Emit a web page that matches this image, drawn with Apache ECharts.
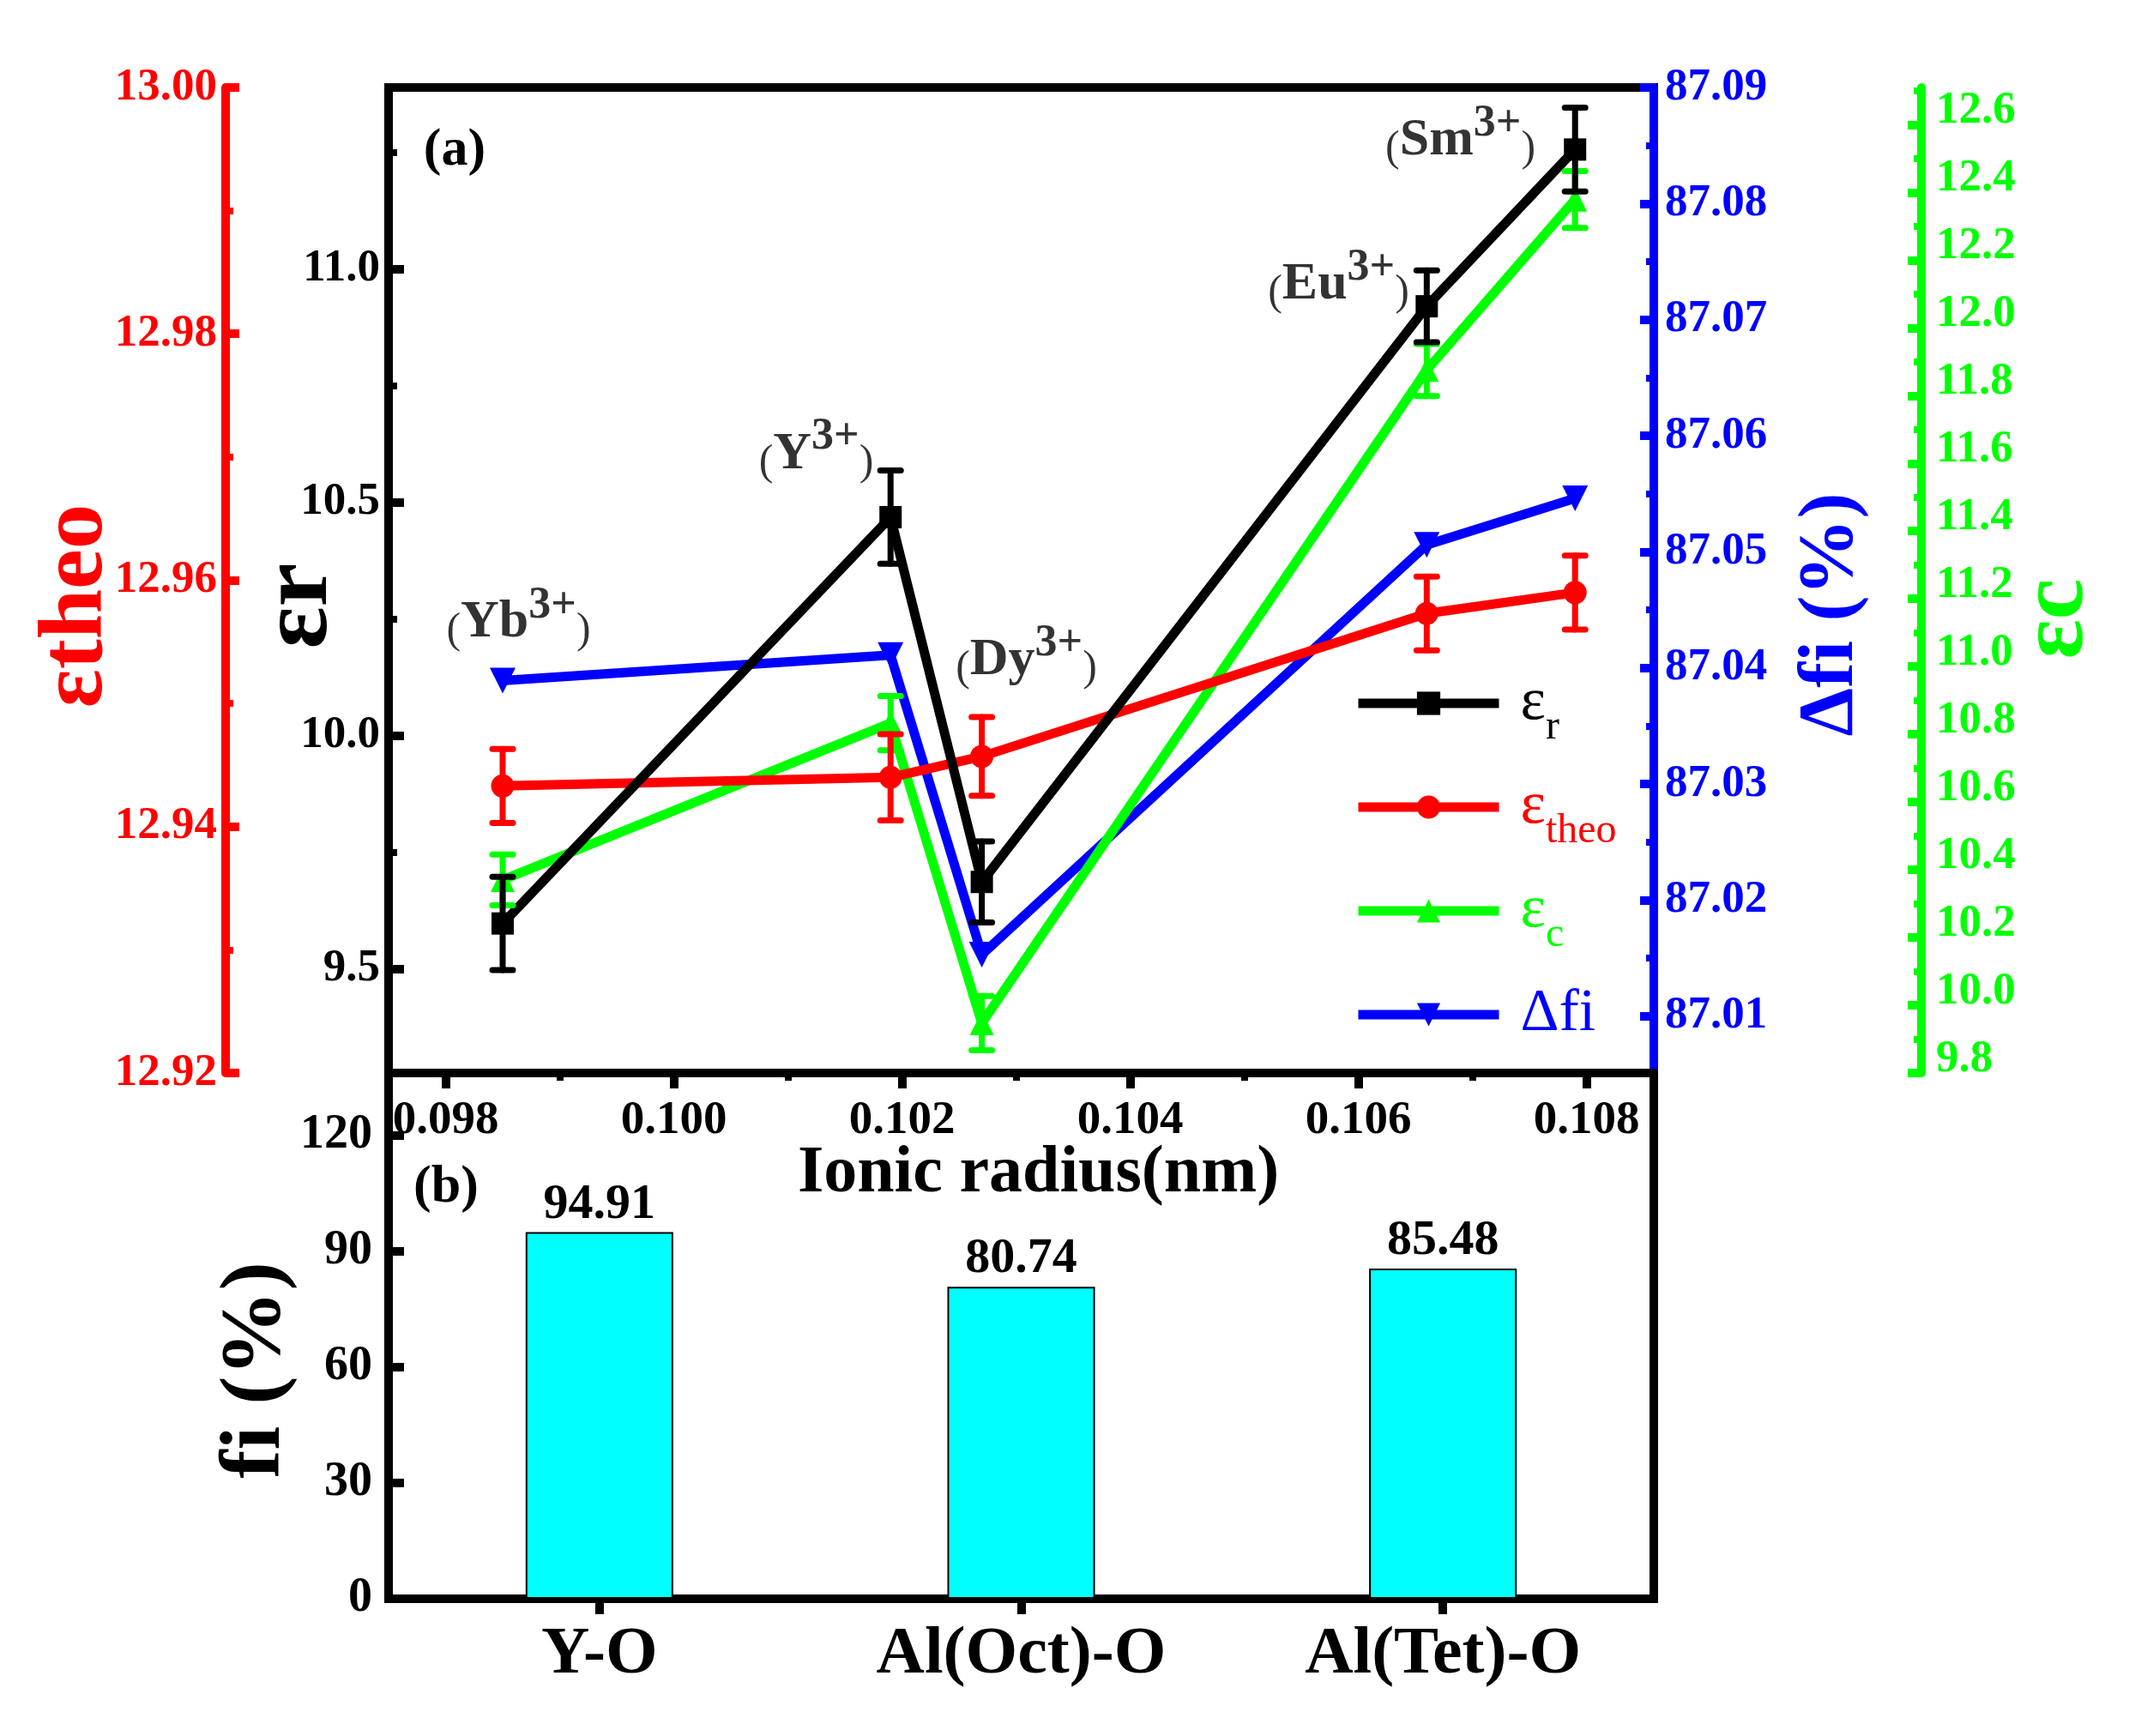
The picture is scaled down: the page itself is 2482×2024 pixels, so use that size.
<!DOCTYPE html>
<html>
<head>
<meta charset="utf-8">
<script src="https://cdn.jsdelivr.net/npm/echarts@6/dist/echarts.min.js"></script>
<style>html,body{margin:0;padding:0;background:#fff}#c{width:2482px;height:2024px}</style>
</head>
<body>
<div id="c"></div>
<script>
// ---------- data ----------
const ionicRadius = [0.0985, 0.1019, 0.1027, 0.1066, 0.1079];
const ionNames = ['Yb', 'Y', 'Dy', 'Eu', 'Sm'];
const epsR = [9.597, 10.468, 9.686, 10.92, 11.256];
const epsRErr = [0.10, 0.10, 0.087, 0.077, 0.09];
const epsTheo = [12.9433, 12.9440, 12.9457, 12.9573, 12.959];
const epsTheoErr = [0.003, 0.0035, 0.0032, 0.003, 0.003];
const epsC = [10.37, 10.833, 9.947, 11.876, 12.379];
const epsCErr = [0.075, 0.08, 0.08, 0.077, 0.084];
const deltaFi = [87.0389, 87.0411, 87.0153, 87.0506, 87.0546];
// annotation anchors in (ionic radius, εr) units
const annotX = [0.098639, 0.101248, 0.103090, 0.105827, 0.106895];
const annotY = [10.2415, 10.602, 10.1607, 10.966, 11.2746];

const bonds = ['Y-O', 'Al(Oct)-O', 'Al(Tet)-O'];
const fiValues = [94.91, 80.74, 85.48];

// ---------- ticks ----------
const xTicks = [0.098, 0.100, 0.102, 0.104, 0.106, 0.108];
const xMinor = [0.099, 0.101, 0.103, 0.105, 0.107];
const epsRTicks = [9.5, 10.0, 10.5, 11.0];
const epsRMinor = [9.75, 10.25, 10.75, 11.25];
const epsTheoTicks = [12.92, 12.94, 12.96, 12.98, 13.00];
const epsTheoMinor = [12.93, 12.95, 12.97, 12.99];
const deltaFiTicks = [87.01, 87.02, 87.03, 87.04, 87.05, 87.06, 87.07, 87.08, 87.09];
const deltaFiMinor = [87.015, 87.025, 87.035, 87.045, 87.055, 87.065, 87.075, 87.085];
const epsCTicks = [9.8, 10.0, 10.2, 10.4, 10.6, 10.8, 11.0, 11.2, 11.4, 11.6, 11.8, 12.0, 12.2, 12.4, 12.6];
const epsCMinor = [9.9, 10.1, 10.3, 10.5, 10.7, 10.9, 11.1, 11.3, 11.5, 11.7, 11.9, 12.1, 12.3, 12.5, 12.7];
const fiTicks = [0, 30, 60, 90, 120];

// ---------- style ----------
const FF = 'Liberation Serif';
const BLACK = '#000000', RED = '#FF0000', BLUE = '#0000FF', GREEN = '#00FF00', CYAN = '#00FFFF';

const chart = echarts.init(document.getElementById('c'));

function majorAxis(o) {
  const lbl = { show: true, customValues: o.ticks, formatter: v => v.toFixed(o.dec), color: o.color,
      fontFamily: FF, fontWeight: 'bold', fontSize: o.fs || 53, margin: o.margin || 10 };
  if (o.lift) { lbl.verticalAlign = 'bottom'; lbl.lineHeight = o.lift; }
  return {
    type: 'value', gridIndex: o.grid, position: o.pos, offset: o.offset || 0,
    min: o.min, max: o.max,
    axisLine: { show: true, onZero: false, lineStyle: { color: o.color, width: 10 } },
    axisTick: { show: true, inside: o.inside, length: o.tickLen || 17, lineStyle: { color: o.color, width: 10 }, customValues: o.ticks },
    axisLabel: lbl,
    splitLine: { show: false },
    name: o.name, nameLocation: 'middle', nameGap: o.nameGap, nameRotate: o.nameRotate, nameMoveOverlap: false,
    nameTextStyle: { color: o.color, fontFamily: FF, fontWeight: 'bold', fontSize: o.nfs || 100, padding: o.npad || 0 }
  };
}
function minorAxis(o) {
  return {
    type: 'value', gridIndex: o.grid, position: o.pos, offset: o.offset || 0,
    min: o.min, max: o.max,
    axisLine: { show: false },
    axisTick: { show: true, inside: o.inside, length: o.len || 9, lineStyle: { color: o.color, width: 8 }, customValues: o.ticks },
    axisLabel: { show: false },
    splitLine: { show: false }
  };
}

const X0 = { min: 0.0975, max: 0.10859 };
const RR = { min: 9.2765, max: 11.389 };
const RT = { min: 12.92, max: 13.00 };
const RF = { min: 87.0051, max: 87.09 };
const RC = { min: 9.8, max: 12.71 };

function errorSeries(name, yIdx, vals, errs, color) {
  return {
    type: 'custom', name: name + '_err', xAxisIndex: 0, yAxisIndex: yIdx, z: 6, silent: true,
    encode: { x: 0, y: [1, 2] },
    data: ionicRadius.map((x, i) => [x, vals[i] - errs[i], vals[i] + errs[i]]),
    renderItem: function (params, api) {
      const x = api.value(0);
      const lo = api.coord([x, api.value(1)]);
      const hi = api.coord([x, api.value(2)]);
      const cw = 12;
      const st = { stroke: color, lineWidth: 7, lineCap: 'round' };
      return { type: 'group', children: [
        { type: 'line', shape: { x1: lo[0], y1: lo[1], x2: hi[0], y2: hi[1] }, style: st },
        { type: 'line', shape: { x1: lo[0] - cw, y1: lo[1], x2: lo[0] + cw, y2: lo[1] }, style: st },
        { type: 'line', shape: { x1: hi[0] - cw, y1: hi[1], x2: hi[0] + cw, y2: hi[1] }, style: st }
      ] };
    }
  };
}

const legendFmt = {
  'εr': '{g| }{mK|ε}{sK|r}',
  'εtheo': '{g| }{mR|ε}{sR|theo}',
  'εc': '{g| }{mG|ε}{sG|c}',
  'Δfi': '{g| }{mB|Δfi}{sB| }'
};
function mTok(c) { return { fontFamily: FF, fontSize: 70, color: c }; }
function sTok(c) { return { fontFamily: FF, fontSize: 48, color: c, padding: [56, 0, 0, 0] }; }

const annRich = {
  p: { fontFamily: FF, fontSize: 50, color: BLACK, padding: [20, 0, 0, 0] },
  m: { fontFamily: FF, fontSize: 62, fontWeight: 'bold', color: BLACK },
  s: { fontFamily: FF, fontSize: 52, fontWeight: 'bold', color: BLACK, padding: [0, 0, 40, 0] }
};

const option = {
  animation: false,
  backgroundColor: '#ffffff',
  textStyle: { fontFamily: FF },
  grid: [
    { left: 453, top: 102, width: 1475, height: 1149, show: true, borderColor: BLACK, borderWidth: 10, backgroundColor: 'transparent' },
    { left: 453, top: 1251, width: 1475, height: 613, show: true, borderColor: BLACK, borderWidth: 10, backgroundColor: 'transparent' }
  ],
  xAxis: [
    {
      type: 'value', gridIndex: 0, position: 'bottom', min: X0.min, max: X0.max,
      axisLine: { show: true, onZero: false, lineStyle: { color: BLACK, width: 10 } },
      axisTick: { show: true, inside: false, length: 18, lineStyle: { color: BLACK, width: 10 }, customValues: xTicks },
      axisLabel: { show: true, customValues: xTicks, formatter: v => v.toFixed(3), color: BLACK, fontFamily: FF, fontWeight: 'bold', fontSize: 55, margin: 28 },
      splitLine: { show: false },
      name: 'Ionic radius(nm)', nameLocation: 'middle', nameGap: 79, nameMoveOverlap: false,
      nameTextStyle: { color: BLACK, fontFamily: FF, fontWeight: 'bold', fontSize: 78, padding: [0, 0, 0, 40] }
    },
    {
      type: 'value', gridIndex: 0, position: 'bottom', min: X0.min, max: X0.max,
      axisLine: { show: false },
      axisTick: { show: true, inside: false, length: 9, lineStyle: { color: BLACK, width: 8 }, customValues: xMinor },
      axisLabel: { show: false }, splitLine: { show: false }
    },
    {
      type: 'category', gridIndex: 1, position: 'bottom', data: bonds,
      axisLine: { show: true, lineStyle: { color: BLACK, width: 10 } },
      axisTick: { show: true, alignWithLabel: true, inside: false, length: 18, lineStyle: { color: BLACK, width: 10 } },
      axisLabel: { color: BLACK, fontFamily: FF, fontWeight: 'bold', fontSize: 78, margin: 27 },
      splitLine: { show: false }
    }
  ],
  yAxis: [
    majorAxis({ grid: 0, pos: 'left', min: RR.min, max: RR.max, color: BLACK, inside: true, tickLen: 18, ticks: epsRTicks, dec: 1,
      name: 'εr', nameGap: 45, nameRotate: 90, nfs: 115, npad: [0, 60, 0, 0] }),
    minorAxis({ grid: 0, pos: 'left', min: RR.min, max: RR.max, color: BLACK, inside: true, len: 10, ticks: epsRMinor }),
    majorAxis({ grid: 0, pos: 'left', offset: 190, min: RT.min, max: RT.max, color: RED, inside: true, tickLen: 16, ticks: epsTheoTicks, dec: 2,
      name: 'εtheo', nameGap: 120, nameRotate: 90, nfs: 105, npad: [0, 60, 0, 0] }),
    minorAxis({ grid: 0, pos: 'left', offset: 190, min: RT.min, max: RT.max, color: RED, inside: true, len: 9, ticks: epsTheoMinor }),
    majorAxis({ grid: 0, pos: 'right', min: RF.min, max: RF.max, color: BLUE, inside: true, tickLen: 16, ticks: deltaFiTicks, dec: 2, margin: 13,
      name: 'Δfi (%)', nameGap: 163, nameRotate: 90, nfs: 90, npad: [0, 80, 0, 0] }),
    minorAxis({ grid: 0, pos: 'right', min: RF.min, max: RF.max, color: BLUE, inside: true, len: 9, ticks: deltaFiMinor }),
    majorAxis({ grid: 0, pos: 'right', offset: 312, min: RC.min, max: RC.max, color: GREEN, inside: true, tickLen: 16, ticks: epsCTicks, dec: 1, margin: 17,
      lift: 32, name: 'εc', nameGap: 105, nameRotate: 90, nfs: 108, npad: [0, 90, 0, 0] }),
    minorAxis({ grid: 0, pos: 'right', offset: 312, min: RC.min, max: RC.max, color: GREEN, inside: true, len: 9, ticks: epsCMinor }),
    majorAxis({ grid: 1, pos: 'left', min: 0, max: 136.1, color: BLACK, inside: true, tickLen: 18, ticks: fiTicks, dec: 0, fs: 56, margin: 19,
      name: 'fi (%)', nameGap: 104, nameRotate: 90, npad: [0, 80, 0, 0] })
  ],
  legend: {
    orient: 'vertical', left: 1573, top: 780, itemWidth: 164, itemHeight: 34, itemGap: 34,
    data: ['εr', 'εtheo', 'εc', 'Δfi'],
    lineStyle: { width: 11 },
    formatter: name => legendFmt[name],
    textStyle: {
      fontFamily: FF, fontSize: 70,
      rich: {
        g: { width: 20, fontSize: 20 },
        mK: mTok(BLACK), sK: sTok(BLACK),
        mR: mTok(RED), sR: sTok(RED),
        mG: mTok(GREEN), sG: sTok(GREEN),
        mB: mTok(BLUE), sB: sTok(BLUE)
      }
    }
  },
  graphic: [
    { type: 'text', x: 530, y: 176, style: { text: '(a)', fontFamily: FF, fontWeight: 'bold', fontSize: 62, fill: BLACK, align: 'center', verticalAlign: 'middle' } },
    { type: 'text', x: 520, y: 1385, style: { text: '(b)', fontFamily: FF, fontWeight: 'bold', fontSize: 62, fill: BLACK, align: 'center', verticalAlign: 'middle' } }
  ],
  series: [
    { type: 'line', name: 'Δfi', xAxisIndex: 0, yAxisIndex: 4, z: 2,
      data: ionicRadius.map((x, i) => [x, deltaFi[i]]),
      symbol: 'triangle', symbolRotate: 180, symbolSize: 30,
      lineStyle: { color: BLUE, width: 11 }, itemStyle: { color: BLUE } },
    { type: 'line', name: 'εc', xAxisIndex: 0, yAxisIndex: 6, z: 3,
      data: ionicRadius.map((x, i) => [x, epsC[i]]),
      symbol: 'triangle', symbolSize: 28,
      lineStyle: { color: GREEN, width: 11 }, itemStyle: { color: GREEN } },
    { type: 'line', name: 'εtheo', xAxisIndex: 0, yAxisIndex: 2, z: 4,
      data: ionicRadius.map((x, i) => [x, epsTheo[i]]),
      symbol: 'circle', symbolSize: 27,
      lineStyle: { color: RED, width: 11 }, itemStyle: { color: RED } },
    { type: 'line', name: 'εr', xAxisIndex: 0, yAxisIndex: 0, z: 5,
      data: ionicRadius.map((x, i) => [x, epsR[i]]),
      symbol: 'rect', symbolSize: 26,
      lineStyle: { color: BLACK, width: 11 }, itemStyle: { color: BLACK } },
    errorSeries('εc', 6, epsC, epsCErr, GREEN),
    errorSeries('εtheo', 2, epsTheo, epsTheoErr, RED),
    errorSeries('εr', 0, epsR, epsRErr, BLACK),
    { type: 'scatter', name: 'ions', xAxisIndex: 0, yAxisIndex: 0, z: 8, silent: true,
      symbolSize: 1, itemStyle: { color: 'rgba(0,0,0,0)' },
      data: ionNames.map((n, i) => ({ name: n, value: [annotX[i], annotY[i]] })),
      label: { show: true, position: 'inside', formatter: p => '{p|(}{m|' + p.name + '}{s|3+}{p|)}', rich: annRich } },
    { type: 'bar', name: 'fi', xAxisIndex: 2, yAxisIndex: 8, barWidth: '35%',
      data: fiValues,
      itemStyle: { color: CYAN, borderColor: BLACK, borderWidth: 2 },
      label: { show: true, position: 'top', distance: 3, formatter: p => p.value.toFixed(2), color: BLACK, fontFamily: FF, fontWeight: 'bold', fontSize: 58 } }
  ]
};
chart.setOption(option);
</script>
</body>
</html>
